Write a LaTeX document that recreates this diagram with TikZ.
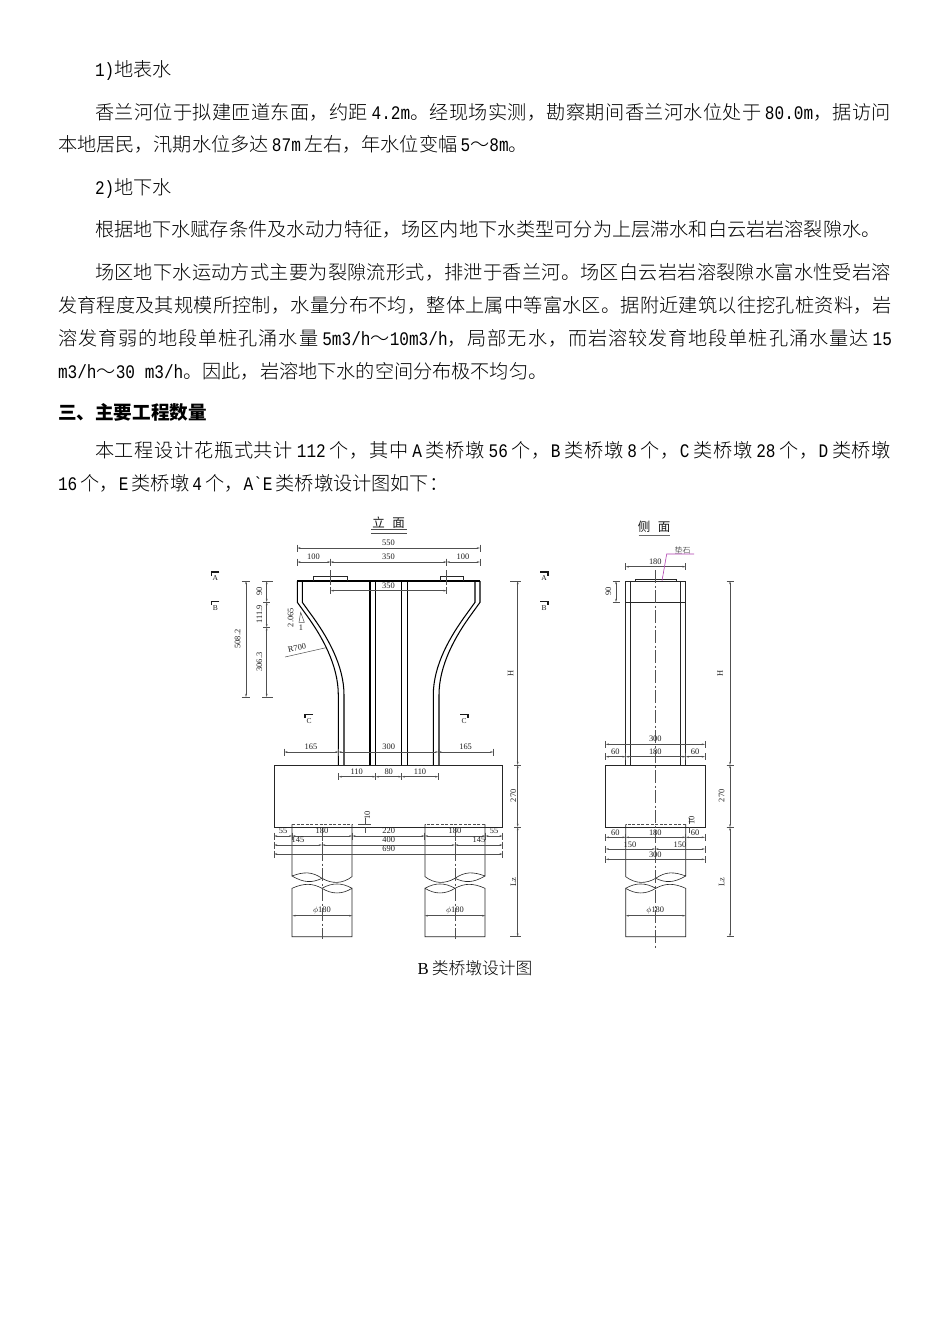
\documentclass[tikz,border=0pt]{standalone}
\usepackage{fontspec}
\usetikzlibrary{arrows.meta}
\setmainfont{Noto Sans CJK SC Light}
\newfontfamily\cjkb{Noto Sans CJK SC}
\newfontfamily\lat[FakeStretch=0.84]{Liberation Mono}
\newfontfamily\capl{Liberation Serif}
\newfontfamily\numf{Liberation Serif}
\newcount\cjkloop
\newcommand{\setclassrange}[3]{\cjkloop=#1\relax
  \loop\XeTeXcharclass\cjkloop=#3\relax
  \ifnum\cjkloop<#2\relax\advance\cjkloop by 1\repeat}
\setclassrange{"4E00}{"9FFF}{11}
\setclassrange{"3000}{"303F}{11}
\setclassrange{"FF00}{"FFEF}{11}
\XeTeXinterchartokenstate=1
\newcommand{\jg}{\hskip 0pt plus 1pt\relax}
\XeTeXinterchartoks 11 11 = {\jg}
\newcommand{\Lt}[1]{{\lat #1}}
\newcommand{\gp}{\hskip 3.2pt plus 1pt\relax}
\definecolor{dimc}{HTML}{505050}
\definecolor{leader}{HTML}{B040B0}
\tikzset{
  x=1pt,y=-1pt,
  bodytext/.style={anchor=base west,inner sep=0pt,outer sep=0pt,font=\fontsize{19.16}{20}\selectfont},
  captext/.style={anchor=base,inner sep=0pt,outer sep=0pt,font=\fontsize{16.76}{18}\selectfont},
  lab/.style={inner sep=0pt,outer sep=0pt,text=black!88,font=\numf\fontsize{8.4}{8}\selectfont},
  rlab/.style={lab,rotate=90},
  titletext/.style={inner sep=0pt,outer sep=0pt,text=black!90,font=\cjkb\fontsize{12.5}{13}\selectfont},
  heavy/.style={line width=1.05pt,black},
  thinb/.style={line width=0.6pt,black!85},
  dimline/.style={line width=0.5pt,dimc},
  arrowed/.style={dimline,{Stealth[length=3.2pt,width=1.7pt]}-{Stealth[length=3.2pt,width=1.7pt]}},
  cline/.style={line width=0.55pt,dimc,dash pattern=on 13pt off 2.5pt on 2pt off 2.5pt},
  hid/.style={line width=0.55pt,dimc,dash pattern=on 3pt off 1.6pt},
  flag/.style={line width=1.3pt,black!90},
}
\newcommand{\JL}[4]{\node[bodytext] at (#1,#2) {\makebox[#3pt][s]{#4}};}
\newcommand{\NL}[3]{\node[bodytext] at (#1,#2) {#3};}
\newcommand{\HD}[3]{\draw[arrowed] (#1,#3) -- (#2,#3);
  \draw[dimline] (#1,#3-3.5) -- (#1,#3+3.5) (#2,#3-3.5) -- (#2,#3+3.5);}
\newcommand{\VD}[3]{\draw[arrowed] (#1,#2) -- (#1,#3);
  \draw[dimline] (#1-3.5,#2) -- (#1+3.5,#2) (#1-3.5,#3) -- (#1+3.5,#3);}
% pile relative to centre, width 60
\newcommand{\pileshape}{%
  \draw[thinb] (-30,824.3) -- (-30,876) .. controls (-18,871.5) and (-10,871.5) .. (0,878.3)
     .. controls (10,884) and (20,884) .. (30,876.7) -- (30,824.3);
  \draw[thinb] (-30,876) .. controls (-18,883) and (-10,883) .. (0,878.3);
  \draw[thinb] (-30,936.7) -- (-30,888.3) .. controls (-18,883) and (-10,883) .. (0,888.3)
     .. controls (10,894.5) and (20,894.5) .. (30,888.3) -- (30,936.7) -- cycle;
  \draw[thinb] (0,888.3) .. controls (10,882.5) and (20,882.5) .. (30,888.3);
  \draw[hid] (-30,824.3) -- (30,824.3);
}
\newcommand{\halfpier}{%
  \draw[heavy] (297.3,581) -- (297.3,602.3) -- (305,613) .. controls (322,636) and (338.3,665) .. (338.3,695) -- (338.3,765);
  \draw[heavy] (302.3,581) -- (302.3,602.3) -- (310,613) .. controls (327,636) and (344,665) .. (344,695) -- (344,765);
  \draw[heavy] (370,581) -- (370,765) (375.7,581) -- (375.7,765);
}
\begin{document}
\begin{tikzpicture}
\useasboundingbox (0,0) rectangle (950,1344);
\fill[white] (0,0) rectangle (950,1344);
% ----- body text
\NL{95}{76}{\Lt{1)}地表水}
\JL{95}{119}{796}{香兰河位于拟建匝道东面，约距\gp\Lt{4.2m}。经现场实测，勘察期间香兰河水位处于\gp\Lt{80.0m}，据访问}
\NL{58}{151}{本地居民，汛期水位多达\gp\Lt{87m}\gp 左右，年水位变幅\gp\Lt{5}～\Lt{8m}。}
\NL{95}{194}{\Lt{2)}地下水}
\NL{95}{236}{根据地下水赋存条件及水动力特征，场区内地下水类型可分为上层滞水和白云岩岩溶裂隙水。}
\JL{95}{279}{796}{场区地下水运动方式主要为裂隙流形式，排泄于香兰河。场区白云岩岩溶裂隙水富水性受岩溶}
\JL{58}{312}{834}{发育程度及其规模所控制，水量分布不均，整体上属中等富水区。据附近建筑以往挖孔桩资料，岩}
\JL{58}{345}{834}{溶发育弱的地段单桩孔涌水量\gp\Lt{5m3/h}～\Lt{10m3/h}，局部无水，而岩溶较发育地段单桩孔涌水量达\gp\Lt{15}}
\NL{58}{378}{\Lt{m3/h}～\Lt{30 m3/h}。因此，岩溶地下水的空间分布极不均匀。}
\node[bodytext,font=\cjkb\bfseries\fontsize{18.6}{20}\selectfont] at (58,419) {三、主要工程数量};
\JL{95}{457}{796}{本工程设计花瓶式共计\gp\Lt{112}\gp 个，其中\gp\Lt{A}\gp 类桥墩\gp\Lt{56}\gp 个，\Lt{B}\gp 类桥墩\gp\Lt{8}\gp 个，\Lt{C}\gp 类桥墩\gp\Lt{28}\gp 个，\Lt{D}\gp 类桥墩}
\NL{58}{490}{\Lt{16}\gp 个，\Lt{E}\gp 类桥墩\gp\Lt{4}\gp 个，\Lt{A`E}\gp 类桥墩设计图如下：}
\node[captext] at (475,974) {{\capl B}\hskip 3pt 类桥墩设计图};
% ----- elevation
\node[titletext] at (388.5,522.5) {立\hskip 7.5pt 面};
\draw[line width=.7pt,black!70] (371,529) -- (407,529) (371,533) -- (407,533);
\halfpier
\begin{scope}[xshift=777.3pt,xscale=-1]
\halfpier
\end{scope}
\draw[heavy] (297.3,581) -- (480,581);
\draw[line width=.8pt,black!85] (313.3,581) -- (313.3,576) -- (347.3,576) -- (347.3,581);
\draw[line width=.8pt,black!85] (440,581) -- (440,576) -- (463.3,576) -- (463.3,581);
\draw[thinb] (274,765) rectangle (502.7,827);
% piles
\begin{scope}[xshift=322pt]\pileshape\end{scope}
\begin{scope}[xshift=455pt,xscale=-1]\pileshape\end{scope}
\draw[cline] (322,828) -- (322,939);
\draw[cline] (455,828) -- (455,939);
% top dims
\HD{297.3}{480}{548}\node[lab] at (388.5,543) {550};
\HD{297.3}{330.5}{562}\HD{330.5}{446.7}{562}\HD{446.7}{480}{562}
\node[lab] at (313.5,557) {100};\node[lab] at (388.5,557) {350};\node[lab] at (463,557) {100};
\draw[dimline] (330.5,570) -- (330.5,585) (446.7,570) -- (446.7,585);
\HD{330.5}{446.7}{590.7}\node[lab] at (388.5,586) {350};
% left dims
\VD{246}{581}{697}\VD{266.7}{581}{602}\VD{266.7}{602}{627.3}\VD{266.7}{627.3}{697}
\draw[dimline] (241.7,581) -- (250,581) (241.7,697) -- (250,697) (262,581) -- (273,581) (262,697) -- (273,697);
\node[rlab] at (237.7,639) {508.2};
\node[rlab] at (259.3,591) {90};
\node[rlab] at (259.3,614) {111.9};
\node[rlab] at (259.3,662) {306.3};
\node[rlab] at (290.7,617.7) {2.065};
\draw[dimline] (299,622.3) -- (304.3,622.3) -- (300.7,612.3) -- cycle;
\node[lab] at (301,627.7) {1};
\node[lab,rotate=12] at (297,648) {R700};
\coordinate (r1) at (285,657);\coordinate (r2) at (326,647.7);
\draw[dimline] (r1) -- (r2);
% section marks
\newcommand{\flagL}[3]{\draw[flag] (#1+8,#2) -- (#1,#2) -- (#1,#2+3.5);\node[lab,font=\numf\fontsize{7.5}{7}\selectfont] at (#1+4,#2+6.5) {#3};}
\newcommand{\flagR}[3]{\draw[flag] (#1-8,#2) -- (#1,#2) -- (#1,#2+3.5);\node[lab,font=\numf\fontsize{7.5}{7}\selectfont] at (#1-4,#2+6.5) {#3};}
\flagL{211.3}{572}{A}\flagL{211.3}{601.5}{B}\flagL{305}{714.5}{C}
\flagR{548}{572}{A}\flagR{548}{601.5}{B}\flagR{468}{714.5}{C}
% right dims
\VD{517.7}{581}{765}\VD{517.7}{765}{827}\VD{517.7}{827}{936.7}
\draw[dimline] (510,581) -- (521,581) (510,936.7) -- (521,936.7);
\node[rlab] at (510.7,673) {H};
\node[rlab] at (513.3,795.7) {270};
\node[rlab] at (513.3,881.7) {Lz};
% lower dims
\HD{284.3}{338.5}{752}\HD{338.5}{438.3}{752}\HD{438.3}{493.3}{752}
\node[lab] at (311,747) {165};\node[lab] at (388.7,747) {300};\node[lab] at (465.6,747) {165};
\HD{338.7}{375.7}{776.7}\HD{375.7}{401.7}{776.7}\HD{401.7}{438.3}{776.7}
\node[lab] at (356.7,771.7) {110};\node[lab] at (388.7,771.7) {80};\node[lab] at (420,771.7) {110};
\draw[dimline] (358,824.3) -- (371,824.3) (365.3,818) -- (365.3,824.3) (365.3,827) -- (365.3,833);
\node[rlab] at (367.3,815) {10};
\HD{274}{292.3}{836}\HD{292.3}{352.3}{836}\HD{352.3}{424.7}{836}\HD{424.7}{485.3}{836}\HD{485.3}{502.7}{836}
\node[lab] at (283,831) {55};\node[lab] at (322,831) {180};\node[lab] at (388.7,831) {220};\node[lab] at (455,831) {180};\node[lab] at (494,831) {55};
\HD{274}{322}{845}\HD{322}{455}{845}\HD{455}{502.7}{845}
\node[lab] at (298,840) {145};\node[lab] at (388.7,840) {400};\node[lab] at (479,840) {145};
\HD{274}{502.7}{854}\node[lab] at (388.7,849) {690};
\draw[arrowed] (292.3,915.7) -- (352.3,915.7);\node[lab] at (322,910.7) {$\phi$180};
\draw[arrowed] (424.7,915.7) -- (485.3,915.7);\node[lab] at (455,910.7) {$\phi$180};
% ----- side view
\node[titletext] at (654,527) {侧\hskip 7.5pt 面};
\draw[line width=1pt,black!60] (638.7,535.3) -- (670,535.3);
\draw[thinb] (625.7,765) -- (625.7,581) -- (685.7,581) -- (685.7,765);
\draw[thinb] (630.7,581) -- (630.7,765) (680.3,581) -- (680.3,765);
\draw[thinb] (625.7,602) -- (685.7,602);
\draw[thinb] (635,581) -- (635,579) -- (676,579) -- (676,581);
\draw[thinb] (605.7,765) rectangle (705,827.3);
\begin{scope}[xshift=655.7pt,xscale=-1]\pileshape\end{scope}
\draw[cline] (655.3,570) -- (655.3,948);
\HD{625.7}{685.7}{566.7}\node[lab] at (655.3,562) {180};
\node[lab,font=\fontsize{8}{8}\selectfont] at (682.7,550) {垫石};
\coordinate (m1) at (694,554);\coordinate (m2) at (666.7,554);\coordinate (m3) at (662,580.7);
\draw[leader,line width=.6pt] (m1) -- (m2) -- (m3);
\VD{616}{581}{602}\node[rlab] at (608.3,591.7) {90};
\VD{730}{581}{765}\VD{730}{765}{827.3}\VD{730}{827.3}{936.7}
\node[rlab] at (720,673) {H};
\node[rlab] at (721.7,795.7) {270};
\node[rlab] at (721.7,881.7) {Lz};
\HD{605.7}{705}{744.3}\node[lab] at (655.3,739) {300};
\HD{605.7}{625.7}{756.7}\HD{625.7}{685.7}{756.7}\HD{685.7}{705}{756.7}
\node[lab] at (615.3,752) {60};\node[lab] at (655.3,752) {180};\node[lab] at (695,752) {60};
\HD{605.7}{625.7}{837.3}\HD{625.7}{685.7}{837.3}\HD{685.7}{705}{837.3}
\node[lab] at (615.3,832.7) {60};\node[lab] at (655.3,832.7) {180};\node[lab] at (695,832.7) {60};
\draw[dimline] (689.3,818) -- (689.3,824.3) (689.3,827.3) -- (689.3,833);
\node[rlab] at (691.5,820) {10};
\HD{605.7}{655.3}{849}\HD{655.3}{705}{849}
\node[lab] at (630,844.3) {150};\node[lab] at (680,844.3) {150};
\HD{605.7}{705}{859.3}\node[lab] at (655.3,854.3) {300};
\draw[arrowed] (625.7,915.7) -- (685.7,915.7);\node[lab] at (655.3,910.7) {$\phi$180};
\end{tikzpicture}
\end{document}
